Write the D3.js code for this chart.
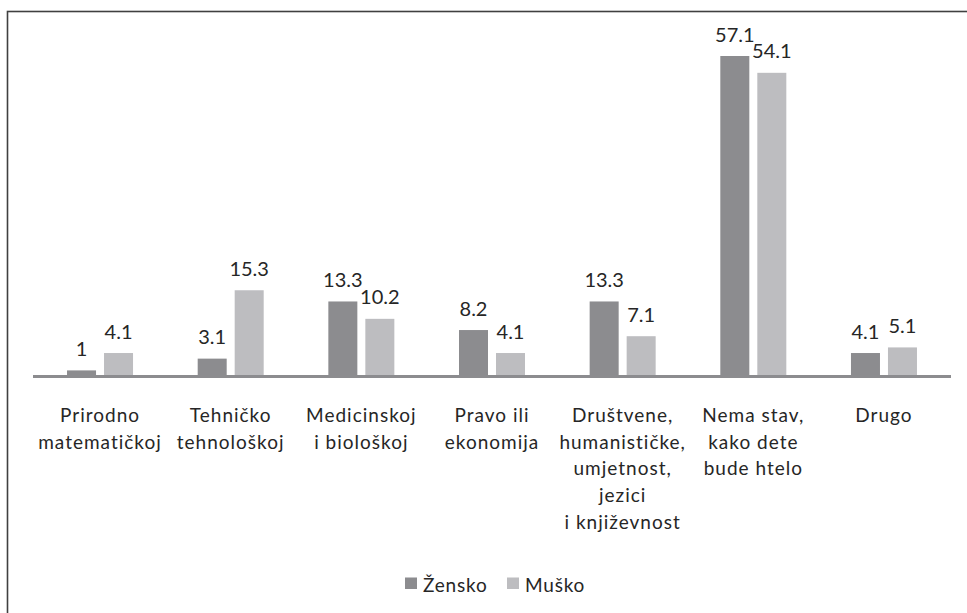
<!DOCTYPE html>
<html>
<head>
<meta charset="utf-8">
<script src="https://cdn.jsdelivr.net/npm/d3@7"></script>
<style>
  html, body { margin: 0; padding: 0; background: #fff; }
  svg { display: block; }
  text { font-family: Lato, "Open Sans", sans-serif; fill: #262626; }
</style>
</head>
<body>
<svg id="chart" width="967" height="613"></svg>
<script>
const categories = [
  ["Prirodno", "matematičkoj"],
  ["Tehničko", "tehnološkoj"],
  ["Medicinskoj", "i biološkoj"],
  ["Pravo ili", "ekonomija"],
  ["Društvene,", "humanističke,", "umjetnost,", "jezici", "i književnost"],
  ["Nema stav,", "kako dete", "bude htelo"],
  ["Drugo"]
];
const seriesNames = ["Žensko", "Muško"];
const zensko = [1, 3.1, 13.3, 8.2, 13.3, 57.1, 4.1];
const musko = [4.1, 15.3, 10.2, 4.1, 7.1, 54.1, 5.1];
const colors = ["#8c8c8f", "#bdbdc0"];

const svg = d3.select("#chart");

// frame
svg.append("rect")
  .attr("x", 7.5).attr("y", 11.5)
  .attr("width", 980).attr("height", 640)
  .attr("fill", "none").attr("stroke", "#404040").attr("stroke-width", 1.6);

const catIdx = categories.map((d, i) => i);
const x0 = d3.scaleBand().domain(catIdx).range([34.7, 949.3]).padding(0);
const bw = x0.bandwidth();
const x1 = d3.scaleBand().domain(seriesNames).range([bw / 2 - 33, bw / 2 + 33]).paddingInner(0.216).paddingOuter(0);
const y = d3.scaleLinear().domain([0, 57.1]).range([376, 56]);

const data = catIdx.map(i => ({ i, vals: [zensko[i], musko[i]] }));

const g = svg.append("g");
const groups = g.selectAll("g.cat").data(data).enter().append("g")
  .attr("transform", d => `translate(${x0(d.i)},0)`);

groups.selectAll("rect").data(d => d.vals.map((v, k) => ({ v, k })))
  .enter().append("rect")
  .attr("x", d => x1(seriesNames[d.k]))
  .attr("width", x1.bandwidth())
  .attr("y", d => y(d.v))
  .attr("height", d => y(0) - y(d.v))
  .attr("fill", d => colors[d.k]);

groups.selectAll("text.val").data(d => d.vals.map((v, k) => ({ v, k })))
  .enter().append("text")
  .attr("class", "val")
  .attr("x", d => x1(seriesNames[d.k]) + x1.bandwidth() / 2)
  .attr("y", d => y(d.v) - 14.5)
  .attr("text-anchor", "middle")
  .style("font-size", "20px")
  .text(d => String(d.v));

// baseline axis
const xAxis = d3.axisBottom(x0).tickSize(0).tickFormat("");
const axG = svg.append("g").attr("transform", `translate(0,${y(0) + 0.5})`).call(xAxis);
axG.select(".domain").attr("stroke", "#8c8c8f").attr("stroke-width", 3)
  .attr("d", "M33,0H951");

// category labels
const labG = svg.append("g");
data.forEach(d => {
  const t = labG.append("text")
    .attr("x", x0(d.i) + bw / 2)
    .attr("y", 422)
    .attr("text-anchor", "middle")
    .style("font-size", "19px")
    .style("letter-spacing", "1px");
  categories[d.i].forEach((line, j) => {
    t.append("tspan").attr("x", x0(d.i) + bw / 2).attr("y", 422 + j * 26.7).text(line);
  });
});

// legend
const legend = svg.append("g");
const legX = [405, 507];
seriesNames.forEach((s, k) => {
  legend.append("rect").attr("x", legX[k]).attr("y", 577.5).attr("width", 12).attr("height", 11.5).attr("fill", colors[k]);
  legend.append("text").attr("x", legX[k] + 18).attr("y", 591.5)
    .style("font-size", "19px").style("letter-spacing", "0.8px").text(s);
});
</script>
</body>
</html>
